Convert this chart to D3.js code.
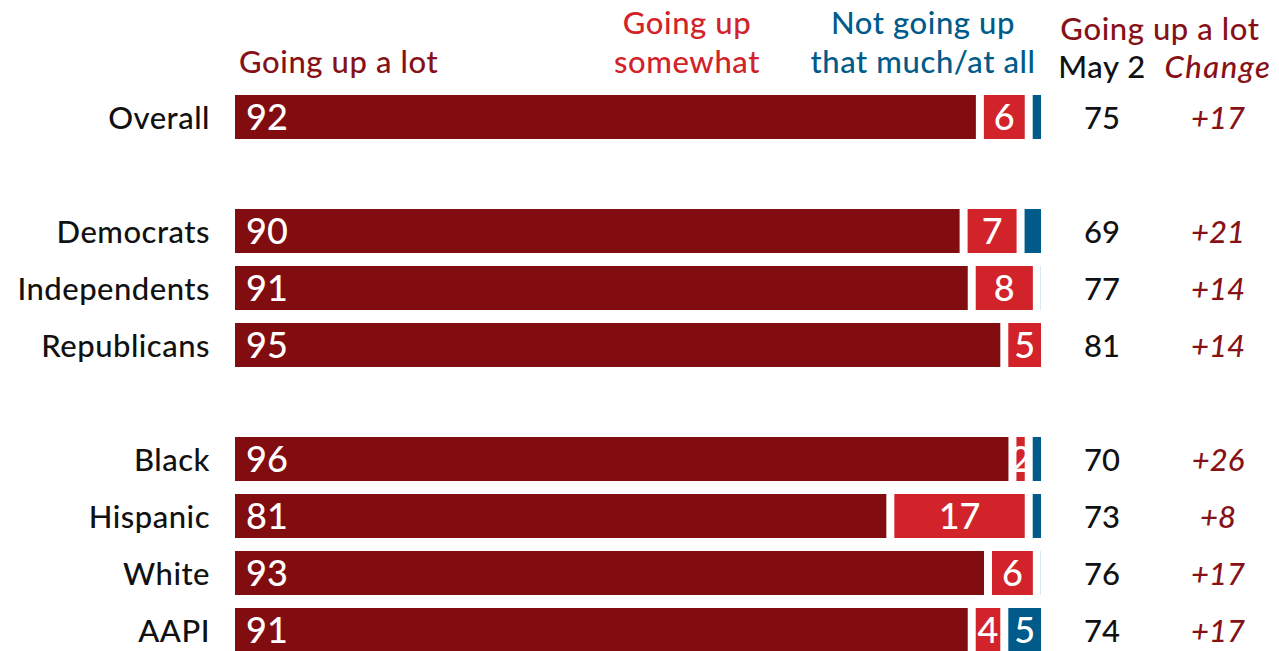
<!DOCTYPE html>
<html>
<head>
<meta charset="utf-8">
<script src="https://cdn.jsdelivr.net/npm/d3@7"></script>
<style>
  html, body { margin: 0; padding: 0; background: #fff; }
  svg { display: block; font-family: "Lato", "Noto Sans", sans-serif; font-weight: 500; }
</style>
</head>
<body>
<svg id="chart" width="1279" height="651"></svg>
<script>
// Groups of rows; a blank row separates each group
const groups = [
  ["Overall"],
  ["Democrats", "Independents", "Republicans"],
  ["Black", "Hispanic", "White", "AAPI"]
];
const categories = ["Overall", "Democrats", "Independents", "Republicans", "Black", "Hispanic", "White", "AAPI"];
const upALot     = [92, 90, 91, 95, 96, 81, 93, 91];
const upSomewhat = [6, 7, 8, 5, 2, 17, 6, 4];
const notMuch    = [2, 3, 1, 0, 2, 2, 1, 5];
const may2       = [75, 69, 77, 81, 70, 73, 76, 74];
const change     = [17, 21, 14, 14, 26, 8, 17, 17];

const seriesNames = ["Going up a lot", "Going up somewhat", "Not going up that much/at all"];
const colors = { lot: "#820d10", some: "#d2232a", not: "#005b8a", text: "#861217" };

const svg = d3.select("#chart");

// Row slot for each category, with a spacer between groups
const slots = [];
let slot = 0;
groups.forEach((g, gi) => {
  if (gi > 0) slot += 1;
  g.forEach(() => { slots.push(slot); slot += 1; });
});

const x = d3.scaleLinear().domain([0, 100]).range([235, 1049]);
const y = d3.scaleLinear().domain([0, 1]).range([95, 152]);
const barH = 44;
const gap = 8;

const rows = categories.map((c, i) => ({
  name: c, slot: slots[i],
  segs: [
    { key: "lot",  start: 0, v: upALot[i] },
    { key: "some", start: upALot[i], v: upSomewhat[i] },
    { key: "not",  start: upALot[i] + upSomewhat[i], v: notMuch[i] }
  ],
  may2: may2[i], change: change[i]
}));

const row = svg.selectAll("g.row").data(rows).join("g")
  .attr("class", "row")
  .attr("transform", d => `translate(0,${y(d.slot)})`);

// Stacked segments, each ending a small white gap before the next
row.selectAll("rect").data(d => d.segs).join("rect")
  .attr("x", s => x(s.start))
  .attr("y", 0)
  .attr("width", s => Math.max(0, x(s.v) - x(0) - gap))
  .attr("height", barH)
  .attr("fill", s => colors[s.key]);

// Value labels inside segments
row.selectAll("text.val").data(d => d.segs.filter(s =>
    s.key === "lot" || (s.key === "some" && s.v >= 2) || (s.key === "not" && s.v >= 4)))
  .join("text")
  .attr("class", "val")
  .attr("x", s => s.key === "lot" ? x(s.start) + 11 : x(s.start) + (x(s.v) - x(0) - gap) / 2)
  .attr("y", barH / 2 + 13)
  .attr("text-anchor", s => s.key === "lot" ? "start" : "middle")
  .attr("fill", "#fff")
  .attr("font-size", 36)
  .text(s => s.v);

// Category labels
row.append("text")
  .attr("x", 210)
  .attr("y", barH / 2 + 12)
  .attr("text-anchor", "end")
  .attr("fill", "#111")
  .attr("font-size", 31)
  .attr("letter-spacing", 0.5)
  .text(d => d.name);

// May 2 values
row.append("text")
  .attr("x", 1102)
  .attr("y", barH / 2 + 12)
  .attr("text-anchor", "middle")
  .attr("fill", "#111")
  .attr("font-size", 31)
  .text(d => d.may2);

// Change since May 2
row.append("text")
  .attr("x", 1218)
  .attr("y", barH / 2 + 12)
  .attr("text-anchor", "middle")
  .attr("fill", colors.text)
  .attr("font-size", 31)
  .attr("font-style", "italic")
  .text(d => (d.change > 0 ? "+" : "") + d.change);

// Column headers
const head = svg.append("g").attr("font-size", 31).attr("letter-spacing", 0.6);
head.append("text")
  .attr("x", 239).attr("y", 73)
  .attr("fill", colors.text)
  .text(seriesNames[0]);

const h2 = head.append("text").attr("x", 687).attr("text-anchor", "middle").attr("fill", colors.some);
h2.append("tspan").attr("x", 687).attr("y", 34).text("Going up");
h2.append("tspan").attr("x", 687).attr("y", 73).text("somewhat");

const h3 = head.append("text").attr("x", 923).attr("text-anchor", "middle").attr("fill", colors.not);
h3.append("tspan").attr("x", 923).attr("y", 34).text("Not going up");
h3.append("tspan").attr("x", 923).attr("y", 73).text("that much/at all");

head.append("text")
  .attr("x", 1160).attr("y", 40)
  .attr("text-anchor", "middle")
  .attr("fill", colors.text)
  .text("Going up a lot");
head.append("text")
  .attr("x", 1102).attr("y", 78)
  .attr("text-anchor", "middle")
  .attr("fill", "#111")
  .text("May 2");
head.append("text")
  .attr("x", 1218).attr("y", 78)
  .attr("text-anchor", "middle")
  .attr("fill", colors.text)
  .attr("font-style", "italic")
  .attr("letter-spacing", 1.5)
  .text("Change");
</script>
</body>
</html>
